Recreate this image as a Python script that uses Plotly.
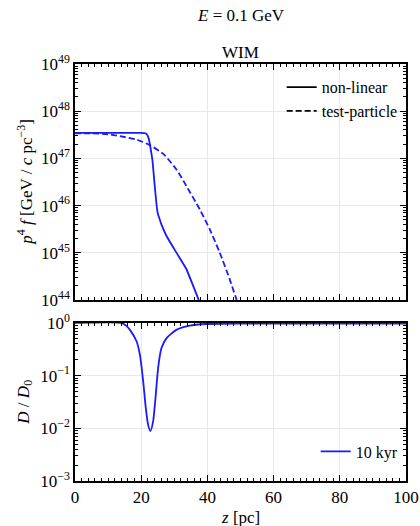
import plotly.graph_objects as go

# ---- data ----
z_nl = [0, 5, 10, 15, 20, 21.0, 21.6, 22.2, 22.6, 23.0, 23.4, 24.1, 24.8, 25.1, 25.6, 26.1, 27.6, 30.6, 33.6, 37.4, 40]
p4f_nl = [3.47e47, 3.47e47, 3.47e47, 3.47e47, 3.47e47, 3.42e47, 3.31e47, 2.75e47, 2.04e47, 1.38e47,
          9.1e46, 2.57e46, 8.3e45, 6.5e45, 5.1e45, 4.0e45, 2.3e45, 1.02e45, 4.6e44, 1.0e44, 4.0e43]

z_tp = [0, 5, 10, 13.6, 18.6, 22.6, 26.6, 30.7, 33.7, 37.7, 40.7, 43.7, 46.7, 48.7, 50]
p4f_tp = [3.39e47, 3.39e47, 3.24e47, 2.95e47, 2.51e47, 1.91e47, 1.26e47, 5.75e46, 2.57e46,
          8.3e45, 3.16e45, 1.02e45, 2.8e44, 1.07e44, 6.0e43]

z_D = [0, 14, 15.6, 16.6, 18.6, 19.6, 20.6, 21.4, 22.1, 22.8, 23.6, 24.4, 25.1, 26.1, 27.6, 30.6, 34.6, 39.6, 50, 100]
D_ratio = [1.0, 1.0, 0.87, 0.74, 0.45, 0.25, 0.078, 0.024, 0.0115, 0.0089, 0.0135, 0.043, 0.138,
           0.33, 0.51, 0.74, 0.89, 0.955, 0.975, 0.975]

top_ticks = [1e44, 1e45, 1e46, 1e47, 1e48, 1e49]
top_ticklabels = ["10<sup>44</sup>", "10<sup>45</sup>", "10<sup>46</sup>", "10<sup>47</sup>", "10<sup>48</sup>", "10<sup>49</sup>"]
bot_ticks = [1e-3, 1e-2, 1e-1, 1e0]
bot_ticklabels = ["10<sup>−3</sup>", "10<sup>−2</sup>", "10<sup>−1</sup>", "10<sup>0</sup>"]
x_ticks = [0, 20, 40, 60, 80, 100]

BLUE = "#1a1aff"
FONT = "Liberation Serif"

top_minor = [m * 10.0 ** k for k in range(44, 49) for m in range(2, 10)]
bot_minor = [m * 10.0 ** k for k in range(-3, 0) for m in range(2, 10)]

fig = go.Figure()
fig.add_trace(go.Scatter(x=z_nl, y=p4f_nl, mode="lines", line=dict(color=BLUE, width=1.8, shape="spline", smoothing=0.4),
                         showlegend=False, xaxis="x", yaxis="y"))
fig.add_trace(go.Scatter(x=z_tp, y=p4f_tp, mode="lines",
                         line=dict(color=BLUE, width=1.8, dash="6px,3px", shape="spline", smoothing=0.6),
                         showlegend=False, xaxis="x", yaxis="y"))
# legend proxies
fig.add_trace(go.Scatter(x=[None], y=[None], mode="lines", line=dict(color="black", width=1.8),
                         name="non-linear", legend="legend", xaxis="x", yaxis="y"))
fig.add_trace(go.Scatter(x=[None], y=[None], mode="lines", line=dict(color="black", width=1.8, dash="6px,3px"),
                         name="test-particle", legend="legend", xaxis="x", yaxis="y"))
fig.add_trace(go.Scatter(x=z_D, y=D_ratio, mode="lines", line=dict(color=BLUE, width=1.8, shape="spline", smoothing=0.6),
                         name="10 kyr", legend="legend2", xaxis="x2", yaxis="y2"))

axis_common = dict(showline=True, linecolor="black", linewidth=1.5, mirror="allticks",
                   ticks="inside", ticklen=6, tickwidth=1, tickcolor="black",
                   ticklabeloverflow="allow",
                   showgrid=True, gridcolor="#e8e8e8", gridwidth=1, zeroline=False,
                   tickfont=dict(family=FONT, size=17, color="black"))

top_dom = [0.434, 1.0]
bot_dom = [0.0, 0.379]

fig.update_layout(
    width=420, height=526,
    margin=dict(l=75, r=12, t=64, b=45),
    paper_bgcolor="white", plot_bgcolor="white",
    font=dict(family=FONT, size=16, color="black"),
    xaxis=dict(axis_common, domain=[0, 1], anchor="y", range=[0, 100], tickvals=x_ticks, automargin=False,
               showticklabels=False, minor=dict(dtick=2, ticks="inside", ticklen=3, tickcolor="black", showgrid=False)),
    yaxis=dict(axis_common, domain=top_dom, anchor="x", type="log", range=[44, 49], automargin=True,
               tickmode="array", tickvals=top_ticks, ticktext=top_ticklabels,
               minor=dict(tickmode="array", tickvals=top_minor, ticks="inside", ticklen=3, tickcolor="black", showgrid=False)),
    xaxis2=dict(axis_common, domain=[0, 1], anchor="y2", range=[0, 100], tickvals=x_ticks, automargin=False,
                minor=dict(dtick=2, ticks="inside", ticklen=3, tickcolor="black", showgrid=False)),
    yaxis2=dict(axis_common, domain=bot_dom, anchor="x2", type="log", range=[-3, 0], automargin=True,
                tickmode="array", tickvals=bot_ticks, ticktext=bot_ticklabels,
                minor=dict(tickmode="array", tickvals=bot_minor, ticks="inside", ticklen=3, tickcolor="black", showgrid=False)),
    legend=dict(x=0.99, y=0.985, xanchor="right", yanchor="top", bgcolor="rgba(0,0,0,0)",
                font=dict(family=FONT, size=16), tracegroupgap=0, itemwidth=30),
    legend2=dict(x=0.99, y=0.03, xanchor="right", yanchor="bottom", bgcolor="rgba(0,0,0,0)",
                 font=dict(family=FONT, size=16), itemwidth=30),
    annotations=[
        dict(text="<i>E</i> = 0.1 GeV", x=0.5, y=1.0, xref="paper", yref="paper", xanchor="center",
             yanchor="middle", yshift=49, showarrow=False, font=dict(family=FONT, size=17)),
        dict(text="WIM", x=0.5, xref="paper", y=1.0, yref="paper", xanchor="center", yanchor="middle",
             yshift=12, showarrow=False, font=dict(family=FONT, size=17)),
        dict(text="<i>p</i><sup>4</sup> <i>f</i> [GeV / <i>c</i> pc<sup>−3</sup>]", textangle=-90,
             x=-0.152, xref="paper", y=(top_dom[0] + top_dom[1]) / 2, yref="paper",
             xanchor="center", yanchor="middle", showarrow=False, font=dict(family=FONT, size=17)),
        dict(text="<i>D</i> / <i>D</i><sub>0</sub>", textangle=-90,
             x=-0.152, xref="paper", y=(bot_dom[0] + bot_dom[1]) / 2, yref="paper",
             xanchor="center", yanchor="middle", showarrow=False, font=dict(family=FONT, size=17)),
        dict(text="<i>z</i> [pc]", x=0.5, xref="paper", y=0, yref="paper", yshift=-36,
             xanchor="center", yanchor="middle", showarrow=False, font=dict(family=FONT, size=17)),
    ],
)

fig.write_html("out.html", config={"displayModeBar": False},
               post_script="document.body.style.margin='0';document.body.style.overflow='hidden';")
